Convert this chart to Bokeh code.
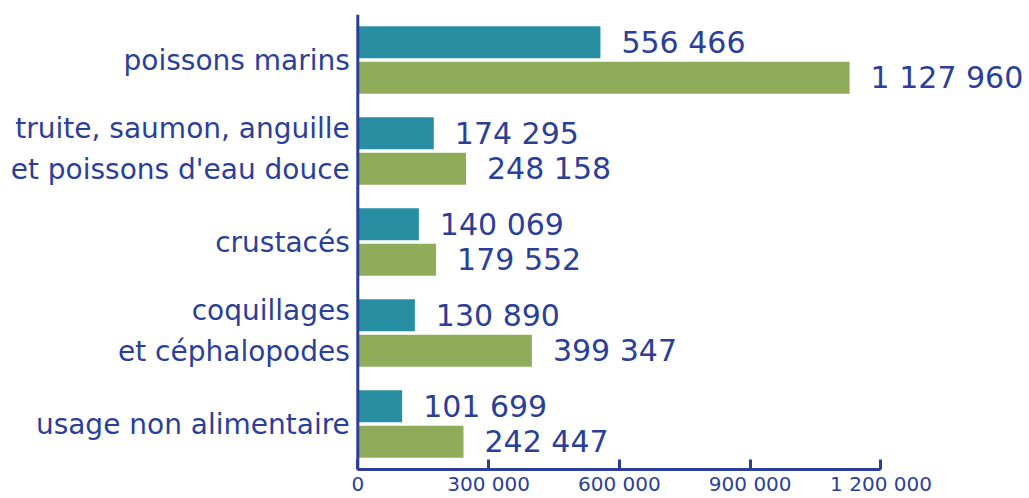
from bokeh.plotting import figure
from bokeh.models import Range1d, FactorRange, ColumnDataSource, Span, FixedTicker
from bokeh.transform import dodge
from bokeh.core.properties import value
from bokeh.embed import file_html
from bokeh.resources import INLINE

# ---- data ----
categories = [
    "poissons marins",
    "truite, saumon, anguille\net poissons d'eau douce",
    "crustacés",
    "coquillages\net céphalopodes",
    "usage non alimentaire",
]
series_a = [556466, 174295, 140069, 130890, 101699]     # teal
series_b = [1127960, 248158, 179552, 399347, 242447]    # green
tick_values = [0, 300000, 600000, 900000, 1200000]
tick_labels = ["0", "300 000", "600 000", "900 000", "1 200 000"]

# ---- style ----
BLUE = "#2b3f98"
TEAL = "#288fa3"
GREEN = "#8fac5a"
FONT = value("DejaVu Sans")

def fmt(v):
    return f"{v:,}".replace(",", " ")

p = figure(
    width=1029, height=498,
    x_range=Range1d(-819500, 1540600),
    y_range=FactorRange(*reversed(categories), range_padding=0),
    output_backend="svg", toolbar_location=None,
    y_axis_location=None,
    min_border_left=0, min_border_right=0, min_border_top=14, min_border_bottom=0,
)
p.outline_line_color = None
p.grid.visible = False
p.background_fill_color = "white"
p.border_fill_color = "white"

src = ColumnDataSource(dict(cat=categories, a=series_a, b=series_b,
                            la=[fmt(v) for v in series_a],
                            lb=[fmt(v) for v in series_b]))

p.hbar(y=dodge("cat", 0.196, range=p.y_range), right="a", left=0, height=0.352,
       source=src, fill_color=TEAL, line_color=None)
p.hbar(y=dodge("cat", -0.196, range=p.y_range), right="b", left=0, height=0.352,
       source=src, fill_color=GREEN, line_color=None)

p.text(x="a", y=dodge("cat", 0.196, range=p.y_range), text="la", source=src,
       x_offset=21, text_baseline="middle", text_align="left",
       text_font=FONT, text_font_size="30px", text_color=BLUE)
p.text(x="b", y=dodge("cat", -0.196, range=p.y_range), text="lb", source=src,
       x_offset=21, text_baseline="middle", text_align="left",
       text_font=FONT, text_font_size="30px", text_color=BLUE)

# category labels (one glyph per line)
ly, lt, lo = [], [], []
for c in categories:
    lines = c.split("\n")
    offs = [0] if len(lines) == 1 else [-23, 18]
    for line, o in zip(lines, offs):
        ly.append(c); lt.append(line); lo.append(o)
lab = ColumnDataSource(dict(x=[0] * len(ly), y=ly, t=lt, o=lo))
p.text(x="x", y="y", text="t", y_offset="o", x_offset=-8, source=lab,
       text_align="right", text_baseline="alphabetic",
       text_font=FONT, text_font_size="28px", text_color=BLUE)

p.add_layout(Span(location=0, dimension="height", line_color=BLUE, line_width=3))

ax = p.xaxis[0]
ax.ticker = FixedTicker(ticks=tick_values)
ax.major_label_overrides = {v: l for v, l in zip(tick_values, tick_labels)}
ax.bounds = (0, 1200000)
ax.axis_line_color = BLUE
ax.axis_line_width = 3
ax.major_tick_line_color = BLUE
ax.major_tick_line_width = 3
ax.major_tick_in = 10
ax.major_tick_out = 0
ax.minor_tick_line_color = None
ax.major_label_standoff = 2
ax.major_label_text_font = "DejaVu Sans"
ax.major_label_text_font_size = "20px"
ax.major_label_text_color = BLUE

open("out.html", "w").write(file_html(p, INLINE))
